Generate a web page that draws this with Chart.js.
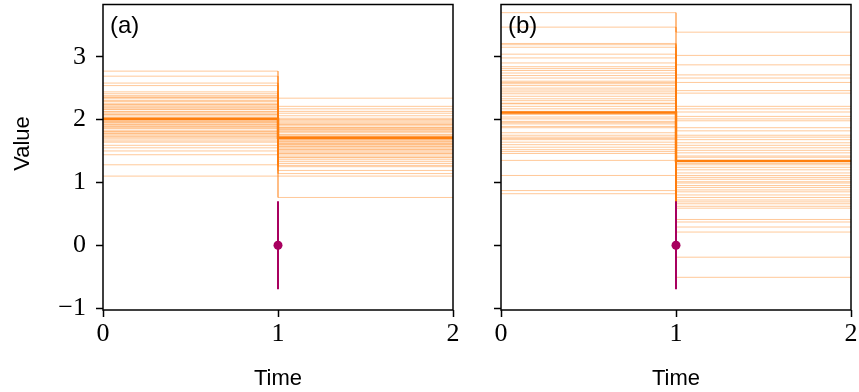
<!DOCTYPE html>
<html>
<head>
<meta charset="utf-8">
<script src="https://cdn.jsdelivr.net/npm/chart.js@4/dist/chart.umd.min.js"></script>
<style>
  html, body { margin: 0; padding: 0; background: #fff; }
  #wrap { position: relative; width: 859px; height: 392px; }
  .panel { position: absolute; top: 0; height: 392px; }
  #panelA { left: 0; width: 460px; }
  #panelB { left: 460px; width: 399px; }
</style>
</head>
<body>
<div id="wrap">
  <div class="panel" id="panelA"><canvas id="chartA"></canvas></div>
  <div class="panel" id="panelB"><canvas id="chartB"></canvas></div>
</div>
<script>
// step change at t = 1, each sample holds one value before and one after
const TIMES = [0, 1, 2];
const Y_TICKS = [-1, 0, 1, 2, 3];

// panel (a) samples
const samplesA_before = [2.77, 2.69, 2.58, 2.54, 2.44, 2.41, 2.38, 2.35, 2.33, 2.30,
    2.29, 2.26, 2.24, 2.23, 2.19, 2.17, 2.16, 2.13, 2.10, 2.08,
    2.07, 2.04, 2.03, 1.99, 1.97, 1.96, 1.93, 1.92, 1.90, 1.87,
    1.86, 1.83, 1.81, 1.80, 1.77, 1.75, 1.73, 1.71, 1.69, 1.66,
    1.64, 1.59, 1.55, 1.50, 1.44, 1.28, 1.10, 2.21, 2.01, 1.89,
    2.12, 1.78, 2.36, 1.95];
const samplesA_after = [1.62, 2.34, 1.45, 1.88, 1.19, 2.02, 1.73, 1.55, 2.21, 1.67,
    1.30, 1.94, 1.84, 1.50, 2.10, 1.61, 1.36, 1.79, 0.76, 1.98,
    1.70, 1.42, 2.17, 1.57, 1.86, 1.25, 1.65, 2.06, 1.48, 1.76,
    1.91, 1.33, 1.68, 1.14, 2.13, 1.53, 1.81, 1.60, 1.39, 1.96,
    1.72, 1.27, 2.00, 1.64, 1.46, 1.83, 1.10, 1.58, 1.75, 1.92,
    1.52, 1.69, 1.40, 1.87];
const meanA = [2.01, 1.71];

// panel (b) samples
const samplesB_before = [3.70, 3.47, 3.21, 3.19, 3.15, 3.04, 2.98, 2.90, 2.84, 2.81,
    2.78, 2.74, 2.70, 2.66, 2.61, 2.59, 2.54, 2.50, 2.47, 2.41,
    2.37, 2.33, 2.30, 2.25, 2.21, 2.17, 2.13, 2.08, 2.04, 2.01,
    1.97, 1.93, 1.89, 1.87, 1.79, 1.75, 1.72, 1.68, 1.64, 1.60,
    1.56, 1.52, 1.49, 1.46, 1.35, 1.11, 0.87, 0.82, 2.57, 2.26,
    1.95, 1.70, 2.44, 2.10];
const samplesB_after = [1.47, 3.39, 0.95, 2.21, 0.41, 1.72, 3.02, 1.08, 0.66, 2.59,
    1.55, 0.29, 1.87, 1.20, 2.87, 0.80, 1.63, -0.19, 2.12, 1.01,
    0.37, 1.42, 2.71, 0.62, 1.28, 1.98, 0.88, 2.42, 1.15, 0.21,
    1.59, 2.66, 0.72, 1.35, 2.05, 0.92, 1.68, -0.51, 1.24, 2.17,
    0.85, 1.51, 2.46, 0.59, 1.11, 1.82, 0.99, 1.40, 2.01, 0.76,
    1.30, 1.05, 1.75, 0.69];
const meanB = [2.11, 1.34];

// observation with its error bar
const obsTime = 1;
const obsValue = 0;
const obsError = 0.7;

const SAMPLE_COLOR = 'rgba(255, 127, 14, 0.42)';
const MEAN_COLOR = '#ff7f0e';
const OBS_COLOR = '#a8005f';
const TICK_FONT = { family: '"Liberation Serif", serif', size: 26 };
const LABEL_FONT = { family: '"Liberation Sans", sans-serif', size: 22 };

// hold the first value until the change time, then the second one
const stepPoints = (before, after) => [
    { x: TIMES[0], y: before },
    { x: TIMES[1], y: before },
    { x: TIMES[1], y: after },
    { x: TIMES[2], y: after }
];

// frame around the plot area, the panel letter and the y-axis label
const framePlugin = {
    id: 'frame',
    afterDraw(chart, args, opts) {
        const { ctx, chartArea: a } = chart;
        ctx.save();
        ctx.strokeStyle = '#000';
        ctx.lineWidth = 1.5;
        ctx.strokeRect(a.left, a.top, a.right - a.left, a.bottom - a.top);
        ctx.fillStyle = '#000';
        ctx.font = `24px ${LABEL_FONT.family}`;
        ctx.textBaseline = 'top';
        ctx.fillText(opts.letter, a.left + 7, a.top + 10);
        if (opts.yTitle) {
            ctx.font = `${LABEL_FONT.size}px ${LABEL_FONT.family}`;
            ctx.translate(23, a.top + (a.bottom - a.top) * 0.455);
            ctx.rotate(-Math.PI / 2);
            ctx.textAlign = 'center';
            ctx.textBaseline = 'middle';
            ctx.fillText(opts.yTitle, 0, 0);
        }
        ctx.restore();
    }
};

function createPanel(canvasId, before, after, mean, letter, yTitle, yAxisWidth, showYLabels, padRight) {
    const datasets = [];

    before.forEach((v, i) => {
        datasets.push({
            data: stepPoints(v, after[i]),
            borderColor: SAMPLE_COLOR,
            borderWidth: 1,
            pointRadius: 0,
            order: 3
        });
    });

    datasets.push({
        data: stepPoints(mean[0], mean[1]),
        borderColor: MEAN_COLOR,
        borderWidth: 2.5,
        pointRadius: 0,
        order: 2
    });

    datasets.push({
        data: [{ x: obsTime, y: obsValue - obsError }, { x: obsTime, y: obsValue + obsError }],
        borderColor: OBS_COLOR,
        borderWidth: 2,
        pointRadius: 0,
        order: 1
    });

    datasets.push({
        data: [{ x: obsTime, y: obsValue }],
        showLine: false,
        pointRadius: 4.5,
        pointBackgroundColor: OBS_COLOR,
        pointBorderWidth: 0,
        order: 0
    });

    const ctx = document.getElementById(canvasId).getContext('2d');
    return new Chart(ctx, {
        type: 'line',
        data: { datasets },
        options: {
            responsive: true,
            maintainAspectRatio: false,
            animation: false,
            layout: { padding: { top: 4, right: padRight, left: 0, bottom: 0 } },
            plugins: {
                legend: { display: false },
                tooltip: { enabled: false },
                frame: { letter, yTitle }
            },
            scales: {
                x: {
                    type: 'linear',
                    min: 0, max: 2,
                    afterBuildTicks: s => { s.ticks = TIMES.map(v => ({ value: v })); },
                    grid: { drawOnChartArea: false, drawTicks: true, tickLength: 7, tickColor: '#000', tickWidth: 1.5 },
                    border: { display: false },
                    ticks: { color: '#000', font: TICK_FONT, padding: 2, maxRotation: 0 },
                    title: { display: true, text: 'Time', color: '#000', font: LABEL_FONT, padding: { top: 0, bottom: 0 } },
                    afterFit: s => { s.height = 82; s.paddingLeft = 0; s.paddingRight = 0; }
                },
                y: {
                    min: -1.03, max: 3.83,
                    afterBuildTicks: s => { s.ticks = Y_TICKS.map(v => ({ value: v })); },
                    grid: { drawOnChartArea: false, drawTicks: true, tickLength: 7, tickColor: '#000', tickWidth: 1.5 },
                    border: { display: false },
                    ticks: {
                        display: showYLabels,
                        color: '#000',
                        font: TICK_FONT,
                        padding: 10,
                        callback: v => (v < 0 ? '\u2212' + Math.abs(v) : String(v))
                    },
                    afterFit: s => { s.width = yAxisWidth; s.paddingTop = 0; s.paddingBottom = 0; }
                }
            }
        },
        plugins: [framePlugin]
    });
}

createPanel('chartA', samplesA_before, samplesA_after, meanA, '(a)', 'Value', 103, true, 7);
createPanel('chartB', samplesB_before, samplesB_after, meanB, '(b)', null, 41, false, 8);
</script>
</body>
</html>
